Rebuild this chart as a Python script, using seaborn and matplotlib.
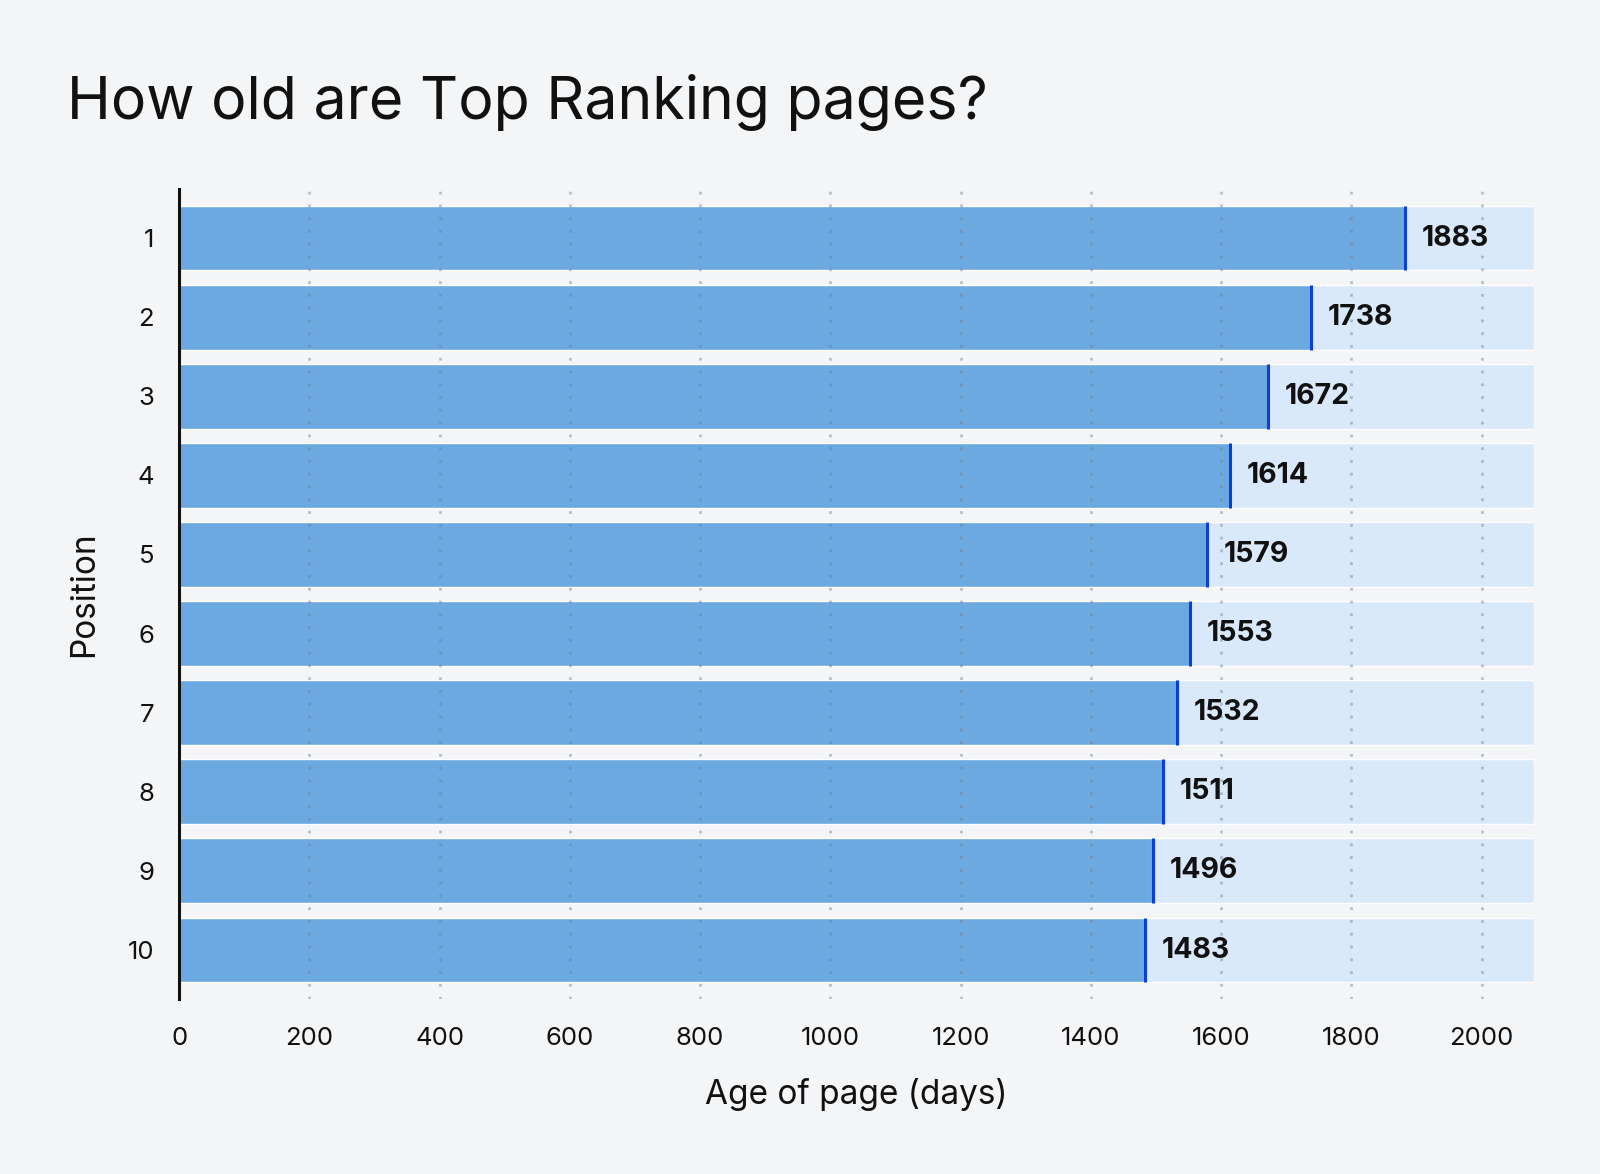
import pandas as pd
import matplotlib.pyplot as plt
import seaborn as sns

# Data
positions = ["1", "2", "3", "4", "5", "6", "7", "8", "9", "10"]
age_days = [1883, 1738, 1672, 1614, 1579, 1553, 1532, 1511, 1496, 1483]
x_ticks = [0, 200, 400, 600, 800, 1000, 1200, 1400, 1600, 1800, 2000]
x_max = 2080

df = pd.DataFrame({"Position": positions, "Age": age_days})
df["Track"] = x_max

bg = "#F4F5F7"
bar_col = "#6CA9E0"
track_col = "#DAE9F9"
end_col = "#0B3FD8"

sns.set_theme(style="white")
plt.rcParams["font.family"] = ["Inter", "DejaVu Sans"]

fig = plt.figure(figsize=(16, 11.74), dpi=100, facecolor=bg)
ax = fig.add_axes([0.112, 0.149, 0.8465, 0.69])
ax.set_facecolor(bg)

# light track bars, then the actual values
sns.barplot(data=df, x="Track", y="Position", orient="h", color=track_col,
            width=0.82, saturation=1, ax=ax, zorder=1)
sns.barplot(data=df, x="Age", y="Position", orient="h", color=bar_col,
            width=0.82, saturation=1, ax=ax, zorder=2)

# dotted vertical grid drawn over the bars
for t in x_ticks[1:]:
    ax.axvline(t, color="#6F7C8C", alpha=0.45, linestyle=(0, (1, 3.6)),
               linewidth=2.0, zorder=3)

value_bars = ax.containers[1]
for p in value_bars:
    x_end = p.get_x() + p.get_width()
    ax.plot([x_end, x_end], [p.get_y(), p.get_y() + p.get_height()],
            color=end_col, linewidth=2.2, zorder=4, solid_capstyle="butt")
ax.bar_label(value_bars, labels=[str(v) for v in age_days], padding=12,
             fontsize=20.5, fontweight="bold", color="#111111", zorder=5)

ax.set_xlim(0, x_max)
ax.set_ylim(9.62, -0.62)
ax.set_xticks(x_ticks)
ax.tick_params(axis="both", length=0, labelsize=18.5, colors="#111111")
ax.tick_params(axis="x", pad=20)
ax.tick_params(axis="y", pad=18)

for s in ["top", "right", "bottom"]:
    ax.spines[s].set_visible(False)
ax.spines["left"].set_color("#111111")
ax.spines["left"].set_linewidth(2.2)
ax.spines["left"].set_zorder(6)

ax.set_xlabel("Age of page (days)", fontsize=24, color="#111111", labelpad=20)
ax.set_ylabel("Position", fontsize=24, color="#111111", labelpad=20)

fig.text(0.042, 0.913, "How old are Top Ranking pages?", fontsize=42.5,
         color="#111111", ha="left", va="center")

fig.savefig("out.png", dpi=100, facecolor=bg)
